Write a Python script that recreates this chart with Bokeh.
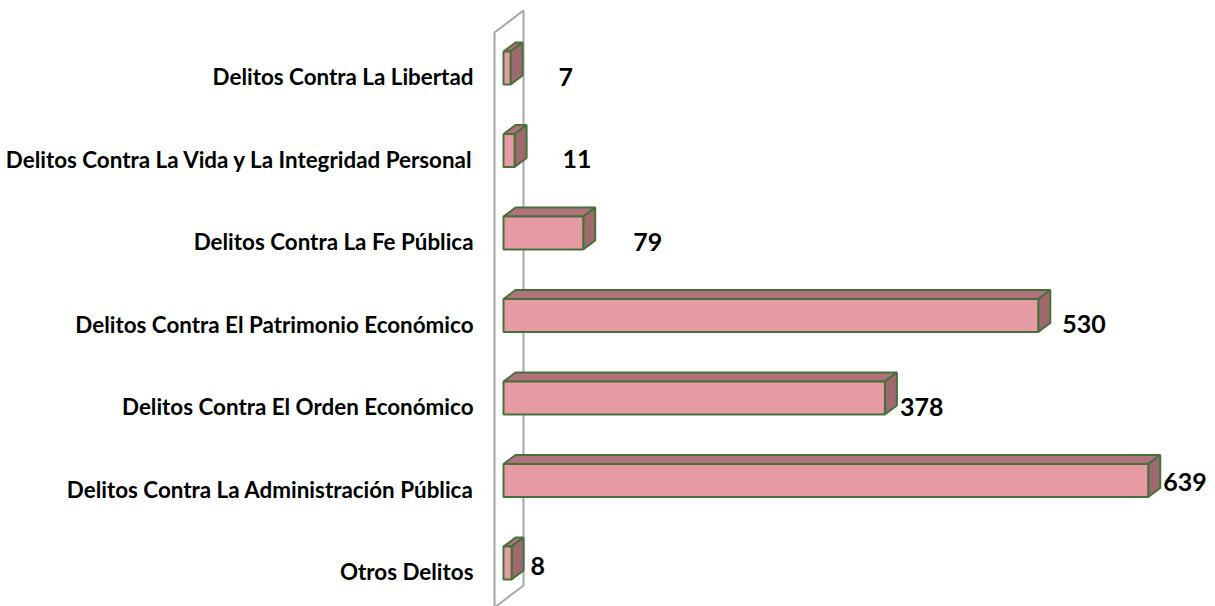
from bokeh.plotting import figure
from bokeh.models import ColumnDataSource, Range1d
from bokeh.core.properties import value
from bokeh.embed import file_html
from bokeh.resources import INLINE

categories = [
    "Delitos Contra La Libertad",
    "Delitos Contra La Vida y La Integridad Personal",
    "Delitos Contra La Fe Pública",
    "Delitos Contra El Patrimonio Económico",
    "Delitos Contra El Orden Económico",
    "Delitos Contra La Administración Pública",
    "Otros Delitos",
]
counts = [7, 11, 79, 530, 378, 639, 8]

# label placement tweaks (pixels), style only
label_dx_px = [36, 36, 38, 12, 3, 3, 7]
label_dy_px = [0, 0, 0, 0, 0, -7, -6]

W, H = 1215, 606
PX_PER_UNIT = 1.009          # x pixels per count
X0_PX = 503                  # pixel where count 0 sits
ROW_PX = 82.5                # pixels per category row
ROW0_PX = 76                 # pixel y of first row centre

def px_x(px):
    return px / PX_PER_UNIT

def px_y(px):
    return px / ROW_PX

p = figure(width=W, height=H, output_backend="svg", toolbar_location=None,
           x_range=Range1d(-X0_PX / PX_PER_UNIT, (W - X0_PX) / PX_PER_UNIT),
           y_range=Range1d(-(H - ROW0_PX) / ROW_PX, ROW0_PX / ROW_PX),
           min_border=0, border_fill_color="white", outline_line_color=None)
p.axis.visible = False
p.grid.visible = False

# back wall (3-D floor plane)
wl, wr = px_x(494 - X0_PX), px_x(523 - X0_PX)
wt_l, wt_r = px_y(ROW0_PX - 32), px_y(ROW0_PX - 10)
wb_l, wb_r = -px_y(607 - ROW0_PX), -px_y(585 - ROW0_PX)
p.patch([wl, wr, wr, wl], [wt_l, wt_r, wb_r, wb_l], fill_color=None,
        line_color="#A6A6A6", line_width=2)

dx = px_x(12)
dy = px_y(9)
front_h = px_y(33)
shift = px_y(8.5)
edge = "#46703A"

fx, fy, tx, ty, sx, sy = [], [], [], [], [], []
for i, v in enumerate(counts):
    yc = -i + shift
    yt, yb = yc + front_h / 2, yc - front_h / 2
    x0, x1 = 0, v
    fx.append([x0, x1, x1, x0]); fy.append([yt, yt, yb, yb])
    tx.append([x0, x1, x1 + dx, x0 + dx]); ty.append([yt, yt, yt + dy, yt + dy])
    sx.append([x1, x1 + dx, x1 + dx, x1]); sy.append([yt, yt + dy, yb + dy, yb])

p.patches(tx, ty, fill_color="#B0737B", line_color=edge, line_width=2)
p.patches(sx, sy, fill_color="#9E6A70", line_color=edge, line_width=2)
p.patches(fx, fy, fill_color="#E69AA4", line_color=edge, line_width=2)

cat_src = ColumnDataSource(dict(
    x=[px_x(473 - X0_PX)] * len(categories),
    y=[-i for i in range(len(categories))],
    t=categories))
p.text("x", "y", "t", source=cat_src, text_align="right", text_baseline="middle",
       text_font=value("Lato"), text_font_style="bold", text_font_size="22.4px",
       text_color="black")

val_src = ColumnDataSource(dict(
    x=[v + dx + px_x(d) for v, d in zip(counts, label_dx_px)],
    y=[-i - px_y(d) for i, d in enumerate(label_dy_px)],
    t=[str(v) for v in counts]))
p.text("x", "y", "t", source=val_src, text_align="left", text_baseline="middle",
       text_font=value("Lato"), text_font_style="bold", text_font_size="25px",
       text_color="black")

open("out.html", "w").write(file_html(p, INLINE))
